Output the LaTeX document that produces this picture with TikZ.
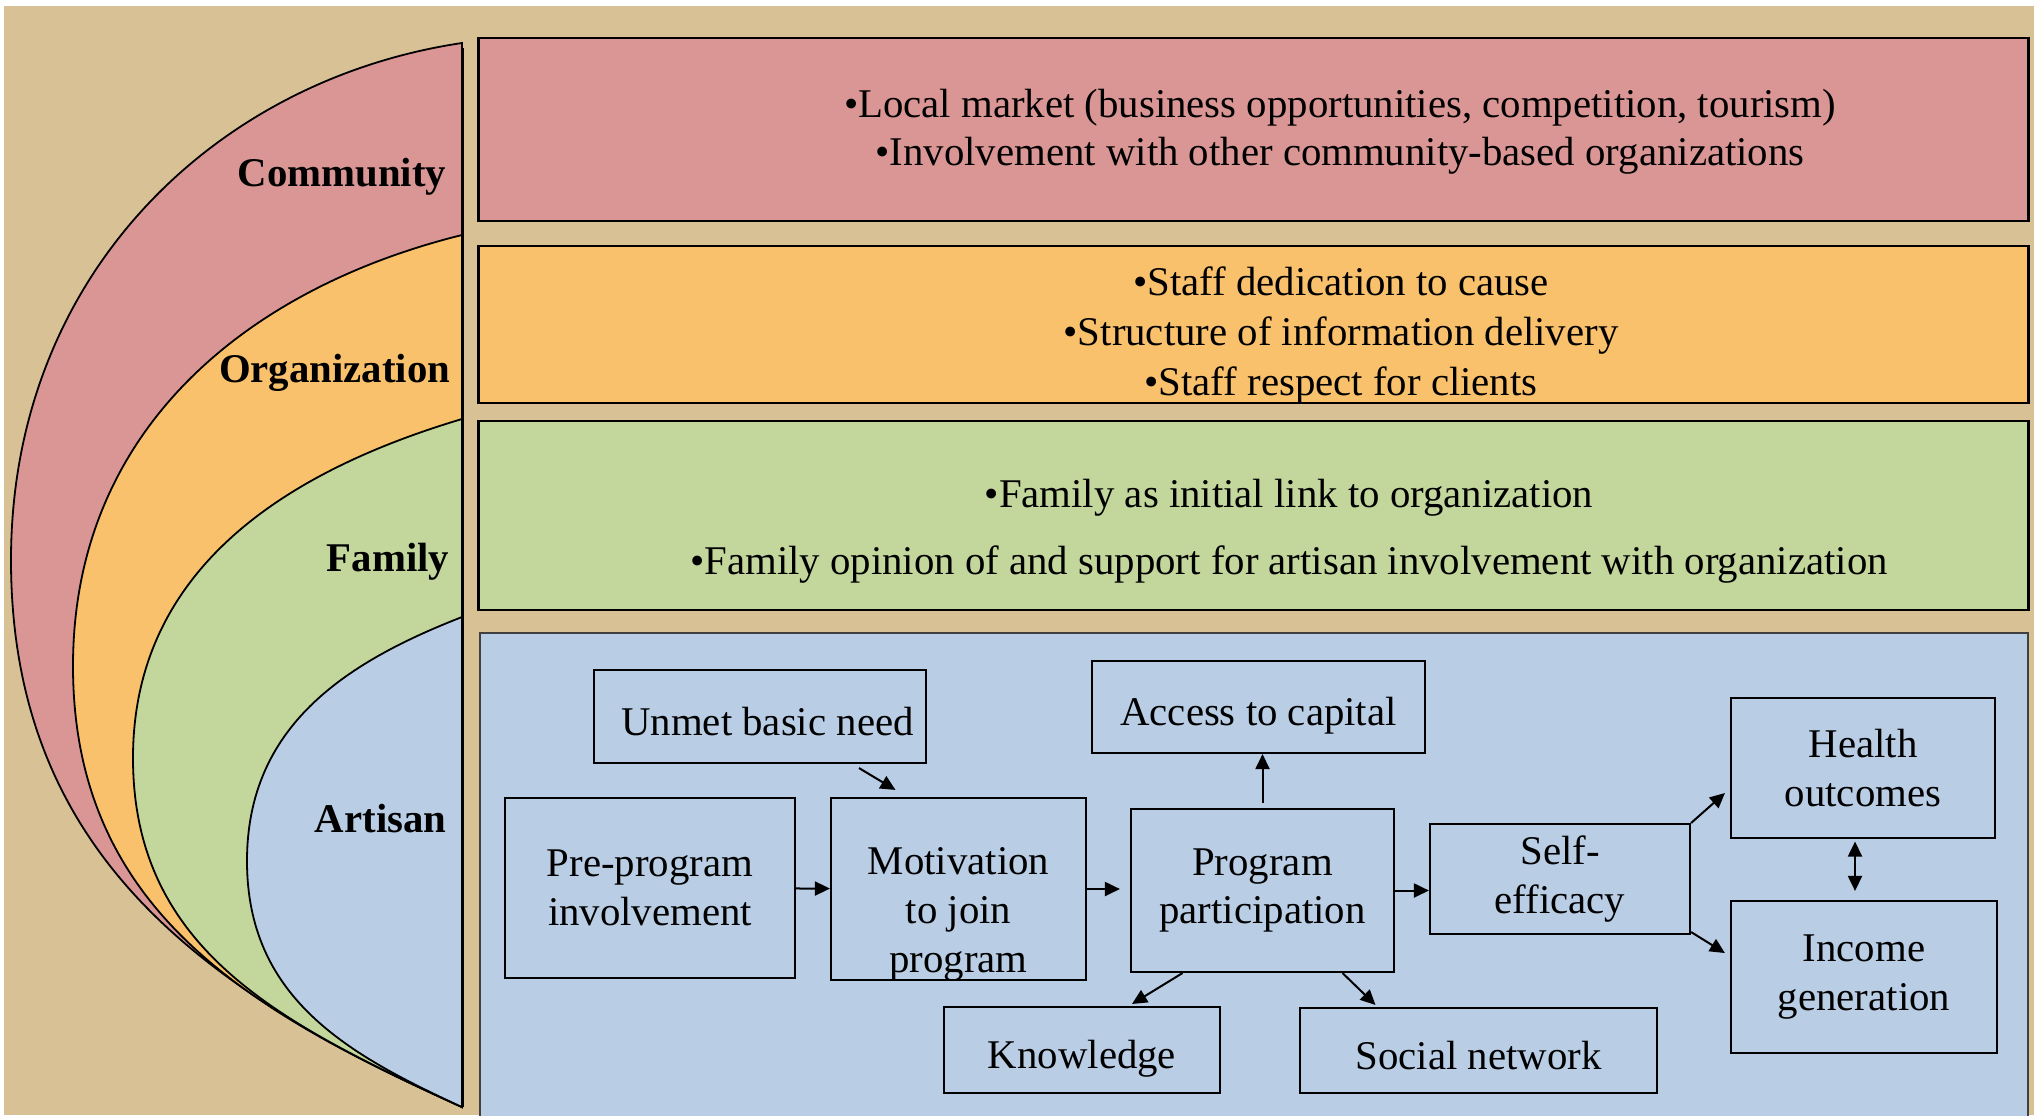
\documentclass[tikz,border=0pt]{standalone}
\usepackage{fontspec}
\setmainfont{Liberation Serif}
\usetikzlibrary{arrows.meta,positioning}

\definecolor{tanbg}{RGB}{217,193,150}
\definecolor{commred}{RGB}{217,150,148}
\definecolor{orgorange}{RGB}{249,193,108}
\definecolor{famgreen}{RGB}{195,214,155}
\definecolor{artblue}{RGB}{185,205,229}

\newcommand{\lowtxt}[2]{\raisebox{-#1}[\height][\depth]{#2}}

\begin{document}
\begin{tikzpicture}[x=0.01cm, y=-0.01cm,
    lvlband/.style={draw, line width=0.025cm, minimum width=15.49cm, inner sep=0pt},
    lvllabel/.style={anchor=base east, inner sep=0pt, font=\fontsize{11.6}{13.9}\selectfont\bfseries},
    box/.style={draw, line width=0.02cm, align=center, inner sep=0pt, font=\fontsize{11.6}{13.9}\selectfont},
    arr/.style={-{Triangle[length=0.15cm,width=0.14cm]}, line width=0.02cm},
    darr/.style={{Triangle[length=0.15cm,width=0.14cm]}-{Triangle[length=0.15cm,width=0.14cm]}, line width=0.02cm}]

    \useasboundingbox (0,0) rectangle (2034,1115);
    \fill[tanbg] (4,6) rectangle (2034,1115);

    % Nested levels on the left
    \filldraw[fill=commred, line width=0.018cm] (462,43) .. controls (214,80) and (11,276) .. (11,560)
        .. controls (11,861) and (214,995) .. (462,1107) -- cycle;
    \filldraw[fill=orgorange, line width=0.018cm] (462,235) .. controls (248,288) and (73,429) .. (73,666)
        .. controls (73,909) and (248,1011) .. (462,1107) -- cycle;
    \filldraw[fill=famgreen, line width=0.018cm] (462,419) .. controls (281,473) and (133,572) .. (133,758)
        .. controls (133,950) and (281,1024) .. (462,1107) -- cycle;
    \filldraw[fill=artblue, line width=0.018cm] (462,617) .. controls (344,663) and (247,727) .. (247,861)
        .. controls (247,996) and (344,1053) .. (462,1107) -- cycle;
    \draw[line width=0.03cm] (462,48) -- (462,1107);

    \node[lvllabel] (commlbl) at (447,186) {Community};
    \node[lvllabel] (orglbl) at (451,382) {Organization};
    \node[lvllabel] (famlbl) at (450,571) {Family};
    \node[lvllabel] (artlbl) at (447,832) {Artisan};

    % Level bands
    \node[lvlband, fill=commred, minimum height=1.83cm] (comm) at (1253.5,129.5) {};
    \node[align=center, font=\fontsize{11.6}{13.6}\selectfont] (commtxt) at (1340,131.5)
        {•Local market (business opportunities, competition, tourism)\\•Involvement with other community-based organizations};
    \node[lvlband, fill=orgorange, minimum height=1.57cm] (org) at (1253.5,324.5) {};
    \node[align=center, font=\fontsize{11.6}{14.2}\selectfont] (orgtxt) at (1341,335.5)
        {•Staff dedication to cause\\•Structure of information delivery\\•Staff respect for clients};
    \node[lvlband, fill=famgreen, minimum height=1.89cm] (fam) at (1253.5,515.5) {};
    \node[align=center, font=\fontsize{11.6}{19}\selectfont] (famtxt) at (1289,531)
        {•Family as initial link to organization\\•Family opinion of and support for artisan involvement with organization};
    \filldraw[fill=artblue, draw=black!75, line width=0.018cm] (480,633) rectangle (2028,1130);

    % Artisan pathway
    \node[box, minimum width=3.32cm, minimum height=0.93cm] (unmet) at (760,716.5) {\hspace{0.15cm}\lowtxt{0.05cm}{Unmet basic need}};
    \node[box, minimum width=2.90cm, minimum height=1.80cm] (pre) at (650,888) {Pre-program\\involvement};
    \node[box, minimum width=2.55cm, minimum height=1.82cm] (motiv) at (958.5,889) {};
    \node[align=center, inner sep=0pt, font=\fontsize{11.6}{13.9}\selectfont] (motivtxt) at (958.5,914) {Motivation\\to join\\program};
    \node[box, minimum width=3.33cm, minimum height=0.92cm] (access) at (1258.5,707) {\lowtxt{0.09cm}{Access to capital}};
    \node[box, minimum width=2.63cm, minimum height=1.63cm] (prog) at (1262.5,890.5) {Program\\participation};
    \node[box, minimum width=2.60cm, minimum height=1.10cm] (self) at (1560,879) {Self-\\efficacy};
    \node[box, minimum width=2.64cm, minimum height=1.39cm] (health) at (1863,768) {Health\\outcomes};
    \node[box, minimum width=2.66cm, minimum height=1.52cm] (income) at (1864,977) {Income\\generation};
    \node[box, minimum width=2.76cm, minimum height=0.86cm] (know) at (1082,1050) {\lowtxt{0.09cm}{Knowledge}};
    \node[box, minimum width=3.57cm, minimum height=0.85cm] (social) at (1478.5,1050.5) {\lowtxt{0.05cm}{Social network}};

    \draw[arr] (pre) -- (motiv);
    \draw[arr] ([shift={(99,4)}]unmet.south) -- ([shift={(-63,-7)}]motiv.north);
    \draw[arr, shorten >=0.1cm] (motiv.east) -- (motiv.east -| prog.west);
    \draw[arr, shorten <=0.05cm] (prog.north) -- (prog.north |- access.south);
    \draw[arr] (prog.east) -- (prog.east -| self.west);
    \draw[arr] ([shift={(-80,0)}]prog.south) -- ([shift={(50,-2)}]know.north);
    \draw[arr] ([shift={(80,0)}]prog.south) -- ([shift={(-103,-2)}]social.north);
    \draw[arr] (self.north east) -- ([shift={(-5,25)}]health.west);
    \draw[arr] ([shift={(0,-3)}]self.south east) -- ([shift={(-5,-24)}]income.west);
    \draw[darr] ([shift={(-8,3)}]health.south) -- ([shift={(-9,-9)}]income.north);
\end{tikzpicture}
\end{document}
